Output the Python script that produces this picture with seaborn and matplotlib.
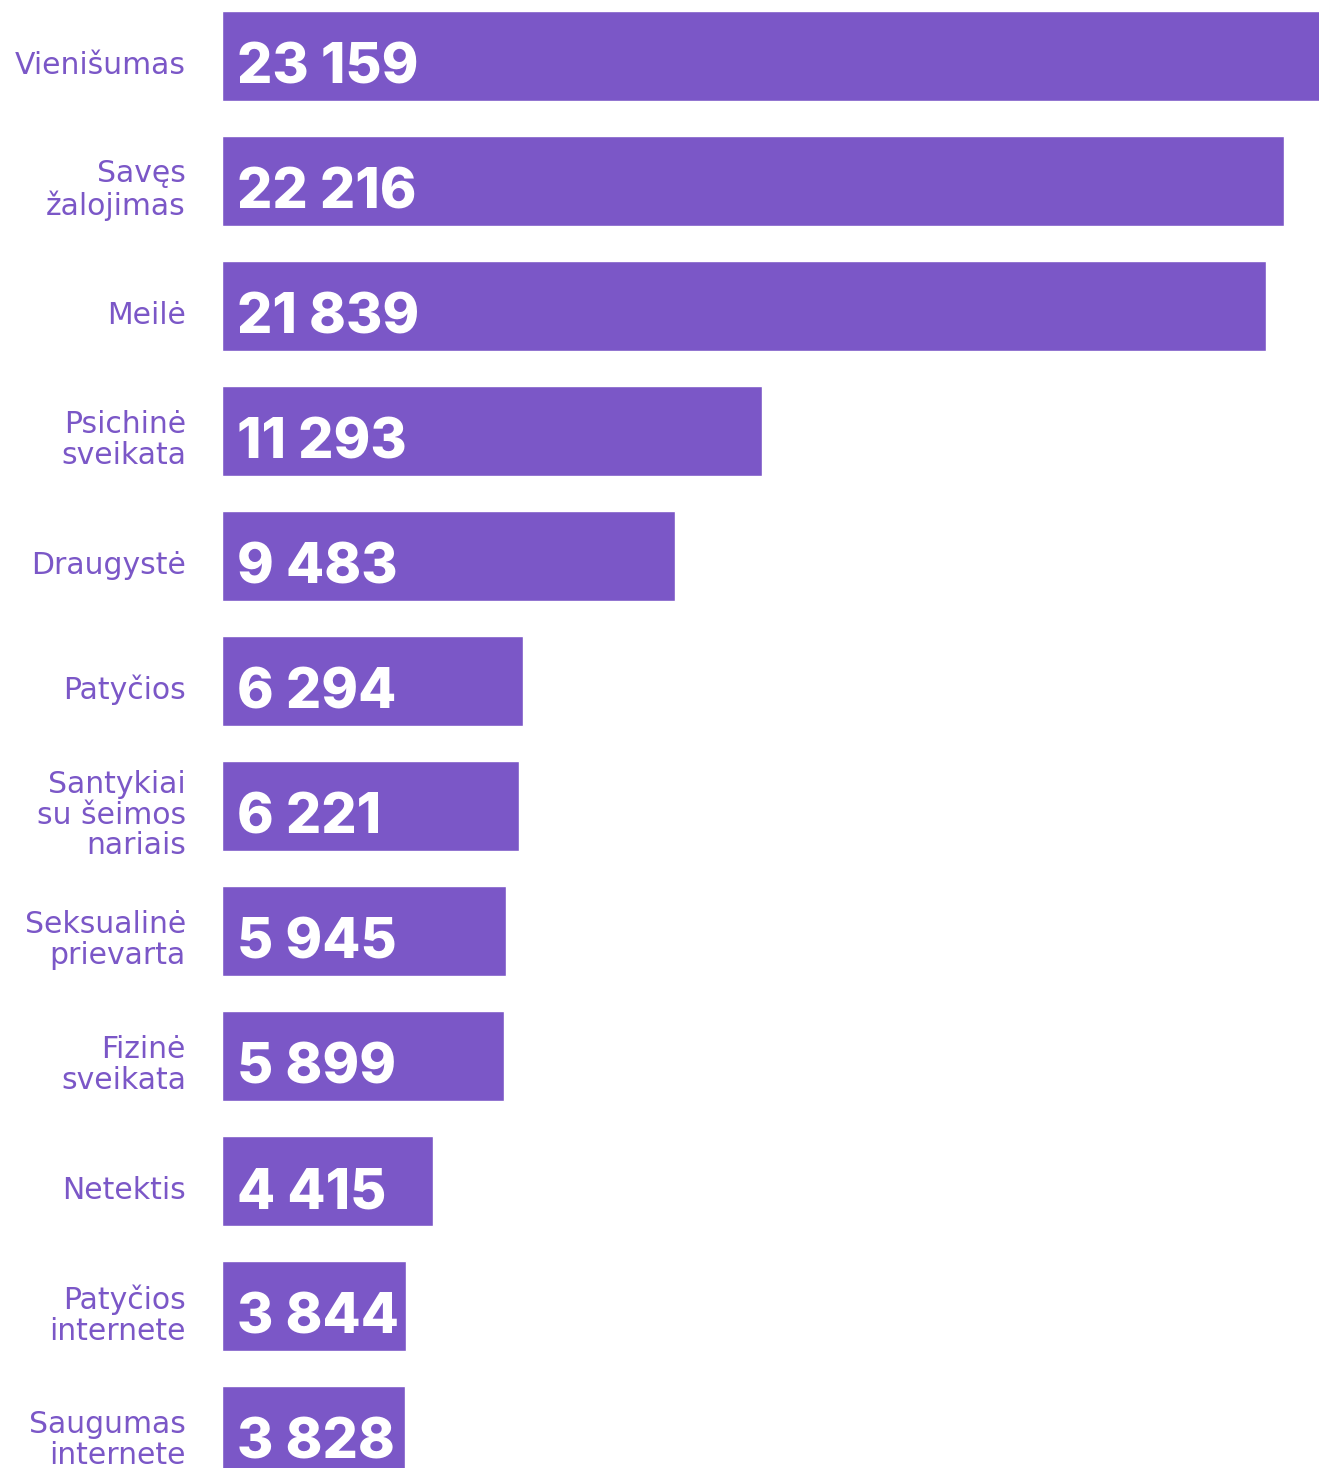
import pandas as pd
import matplotlib.pyplot as plt
import seaborn as sns

# Duomenys
categories = [
    "Vienišumas", "Savęs\nžalojimas", "Meilė", "Psichinė\nsveikata",
    "Draugystė", "Patyčios", "Santykiai\nsu šeimos\nnariais",
    "Seksualinė\nprievarta", "Fizinė\nsveikata", "Netektis",
    "Patyčios\ninternete", "Saugumas\ninternete",
]
values = [23159, 22216, 21839, 11293, 9483, 6294, 6221, 5945, 5899, 4415, 3844, 3828]
value_labels = ["23 159", "22 216", "21 839", "11 293", "9 483", "6 294",
                "6 221", "5 945", "5 899", "4 415", "3 844", "3 828"]

PURPLE = "#7B57C7"

df = pd.DataFrame({"Tema": categories, "Kiekis": values})

sns.set_theme(style="white")
plt.rcParams["font.family"] = ["DejaVu Sans"]

fig = plt.figure(figsize=(13.19, 14.68), dpi=100)
ax = fig.add_axes([222 / 1319, 0, 1 - 222 / 1319, 1])

sns.barplot(data=df, y="Tema", x="Kiekis", orient="h", color=PURPLE,
            saturation=1, width=0.72, ax=ax)

ax.set_xlim(0, 22950)
ax.set_ylim((1468 - 56) / 125, -56 / 125)

# Reikšmės juostų viduje
for i, lab in enumerate(value_labels):
    ax.annotate(lab, (0, i), xytext=(11, -5), textcoords="offset points",
                ha="left", va="center_baseline", color="white", fontsize=40,
                fontweight="heavy", family=["Inter", "DejaVu Sans"])

# Kategorijų pavadinimai kairėje
for i, cat in enumerate(categories):
    ax.annotate(cat, (0, i), xytext=(-26, -6.5), textcoords="offset points",
                ha="right", va="center", color=PURPLE, fontsize=21.5,
                linespacing=1.07, annotation_clip=False)

ax.set_xlabel("")
ax.set_ylabel("")
ax.set_xticks([])
ax.set_yticks([])
for s in ax.spines.values():
    s.set_visible(False)

fig.savefig("out.png", dpi=100, facecolor="white")
